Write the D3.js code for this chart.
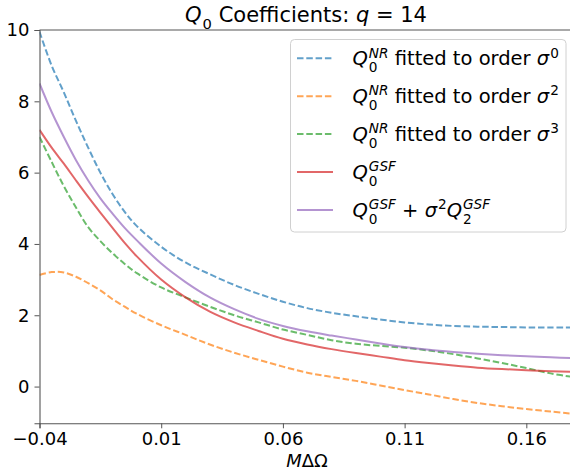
<!DOCTYPE html>
<html>
<head>
<meta charset="utf-8">
<script src="https://cdn.jsdelivr.net/npm/d3@7"></script>
<style>
  body { margin: 0; background: #fff; }
  svg { font-family: "DejaVu Sans", sans-serif; }
  text { white-space: pre; fill: #000; }
</style>
</head>
<body>
<script>
// x grid shared by all curves (M*dOmega)
const xGrid = [-0.04, -0.035, -0.03, -0.025, -0.02, -0.015, -0.01, -0.005, 0,
  0.01, 0.02, 0.03, 0.04, 0.05, 0.06, 0.07, 0.08, 0.09, 0.10,
  0.11, 0.12, 0.13, 0.14, 0.15, 0.16, 0.17, 0.18];

// curves
const nrOrder0 = [9.95, 9.0, 8.25, 7.45, 6.7, 6.0, 5.4, 4.9, 4.5,
  3.92, 3.48, 3.15, 2.85, 2.6, 2.38, 2.2, 2.07, 1.97, 1.88,
  1.8, 1.74, 1.7, 1.68, 1.67, 1.66, 1.66, 1.66];
const nrOrder2 = [3.13, 3.21, 3.2, 3.08, 2.9, 2.7, 2.45, 2.24, 2.04,
  1.72, 1.45, 1.18, 0.95, 0.75, 0.56, 0.39, 0.27, 0.16, 0.03,
  -0.1, -0.22, -0.35, -0.46, -0.55, -0.63, -0.7, -0.77];
const nrOrder3 = [7.0, 6.3, 5.62, 5.02, 4.47, 4.08, 3.74, 3.44, 3.18,
  2.78, 2.5, 2.24, 2.0, 1.8, 1.6, 1.45, 1.3, 1.2, 1.14,
  1.09, 1.01, 0.91, 0.79, 0.66, 0.52, 0.37, 0.26];
const gsf0 = [7.2, 6.7, 6.25, 5.78, 5.32, 4.88, 4.45, 4.03, 3.65,
  3.0, 2.5, 2.1, 1.8, 1.56, 1.34, 1.18, 1.05, 0.94, 0.84,
  0.74, 0.66, 0.59, 0.53, 0.49, 0.46, 0.43, 0.41];
const gsf02 = [8.5, 7.7, 7.0, 6.35, 5.78, 5.28, 4.85, 4.45, 4.1,
  3.45, 2.93, 2.5, 2.17, 1.9, 1.7, 1.55, 1.43, 1.32, 1.21,
  1.11, 1.03, 0.97, 0.92, 0.88, 0.85, 0.82, 0.8];

const xTicks = [-0.04, 0.01, 0.06, 0.11, 0.16];
const yTicks = [0, 2, 4, 6, 8, 10];

// legend labels as math tokens
const labelNR = ord => [{t: "Q", it: true, sub: "0", sup: "NR", supIt: true},
  {t: " fitted to order "}, {t: "σ", it: true, sup: String(ord)}];
const legendLabels = [
  labelNR(0), labelNR(2), labelNR(3),
  [{t: "Q", it: true, sub: "0", sup: "GSF", supIt: true}],
  [{t: "Q", it: true, sub: "0", sup: "GSF", supIt: true}, {t: " + "},
   {t: "σ", it: true, sup: "2"}, {t: "Q", it: true, sub: "2", sup: "GSF", supIt: true}]
];

const series = [
  {vals: nrOrder0, color: "#1f77b4", dash: true},
  {vals: nrOrder2, color: "#ff7f0e", dash: true},
  {vals: nrOrder3, color: "#2ca02c", dash: true},
  {vals: gsf0, color: "#d62728", dash: false},
  {vals: gsf02, color: "#9467bd", dash: false}
];

const W = 570, H = 472;
const plot = {left: 39.5, right: 575, top: 30, bottom: 423.3};

const x = d3.scaleLinear().domain([-0.04, 0.18]).range([plot.left, plot.right]);
const y = d3.scaleLinear().domain([-1.03, 10]).range([plot.bottom, plot.top]);

const svg = d3.select("body").append("svg").attr("width", W).attr("height", H);

// draw a label made of tokens with sub/superscripts
function drawMath(parent, px, py, tokens, fs, anchor) {
  const g = parent.append("g");
  let cx = 0;
  tokens.forEach(tk => {
    const b = g.append("text").attr("x", cx).attr("y", 0)
      .style("font-size", fs + "px")
      .style("font-style", tk.it ? "italic" : "normal")
      .text(tk.t);
    cx += b.node().getComputedTextLength();
    if (tk.it && (tk.sub || tk.sup)) cx += fs * 0.05;
    let w = 0;
    if (tk.sub) {
      const s = g.append("text").attr("x", cx).attr("y", fs * 0.35)
        .style("font-size", fs * 0.7 + "px").text(tk.sub);
      w = Math.max(w, s.node().getComputedTextLength());
    }
    if (tk.sup) {
      const s = g.append("text").attr("x", cx).attr("y", -fs * 0.4)
        .style("font-size", fs * 0.7 + "px")
        .style("font-style", tk.supIt ? "italic" : "normal")
        .text(tk.sup);
      w = Math.max(w, s.node().getComputedTextLength());
    }
    cx += w;
  });
  const dx = anchor === "middle" ? -cx / 2 : 0;
  g.attr("transform", `translate(${px + dx},${py})`);
  return g;
}

svg.append("clipPath").attr("id", "clip").append("rect")
  .attr("x", plot.left).attr("y", plot.top)
  .attr("width", plot.right - plot.left).attr("height", plot.bottom - plot.top);

const line = d3.line()
  .x((d, i) => x(xGrid[i]))
  .y(d => y(d))
  .curve(d3.curveCatmullRom.alpha(0.5));

svg.append("g").attr("clip-path", "url(#clip)")
  .selectAll("path")
  .data(series)
  .enter()
  .append("path")
  .attr("d", d => line(d.vals))
  .attr("fill", "none")
  .attr("stroke", d => d.color)
  .attr("stroke-opacity", 0.7)
  .attr("stroke-width", 2)
  .attr("stroke-dasharray", d => d.dash ? "6.5,2.8" : null);

// axes
const xAxis = d3.axisBottom(x).tickValues(xTicks).tickSize(5).tickPadding(4)
  .tickFormat(d3.format(".2f"));
const yAxis = d3.axisLeft(y).tickValues(yTicks).tickSize(5).tickPadding(5);

const gx = svg.append("g").attr("transform", `translate(0,${plot.bottom})`).call(xAxis);
const gy = svg.append("g").attr("transform", `translate(${plot.left},0)`).call(yAxis);
[gx, gy].forEach(g => {
  g.select(".domain").attr("stroke", "#555").attr("stroke-width", 1.1);
  g.selectAll(".tick line").attr("stroke", "#555").attr("stroke-width", 1);
  g.selectAll(".tick text").attr("fill", "#000")
    .style("font-family", "DejaVu Sans").style("font-size", "18px");
});

// top spine
svg.append("line").attr("x1", plot.left).attr("x2", plot.right)
  .attr("y1", plot.top).attr("y2", plot.top)
  .attr("stroke", "#555").attr("stroke-width", 1.1);

// title and x label
drawMath(svg, 306, 22, [{t: "Q", it: true, sub: "0"}, {t: " Coefficients: "},
  {t: "q", it: true}, {t: " = 14"}], 21, "middle");
drawMath(svg, 307, 467, [{t: "M", it: true}, {t: "ΔΩ"}], 18, "middle");

// legend
const leg = {x: 290.5, y: 39.5, w: 275.5, h: 192.5, rowY0: 58.3, rowStep: 37.9};
svg.append("rect")
  .attr("x", leg.x).attr("y", leg.y).attr("width", leg.w).attr("height", leg.h)
  .attr("rx", 4).attr("fill", "#fff").attr("fill-opacity", 0.8)
  .attr("stroke", "#d0d0d0").attr("stroke-width", 1);

series.forEach((s, i) => {
  const ly = leg.rowY0 + i * leg.rowStep;
  svg.append("line")
    .attr("x1", 297).attr("x2", 333).attr("y1", ly).attr("y2", ly)
    .attr("stroke", s.color).attr("stroke-opacity", 0.7).attr("stroke-width", 2)
    .attr("stroke-dasharray", s.dash ? "6.5,2.8" : null);
  drawMath(svg, 352.5, ly + 7, legendLabels[i], 19.5, "start");
});
</script>
</body>
</html>
